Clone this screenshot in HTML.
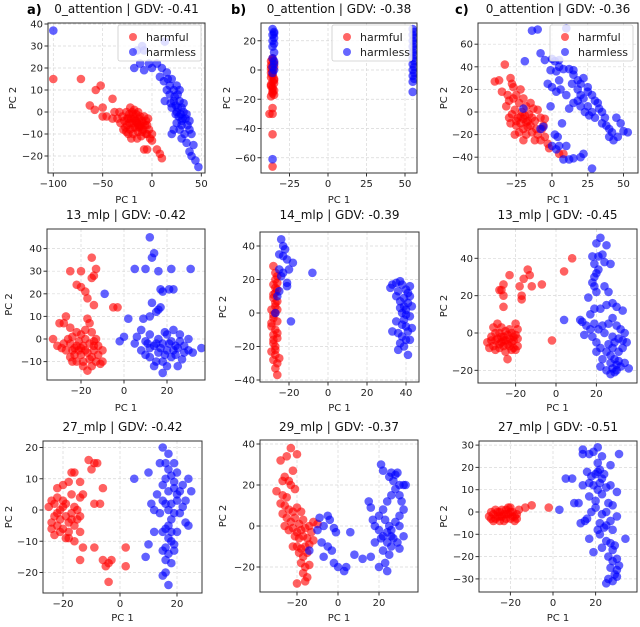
<!DOCTYPE html>
<html><head><meta charset="utf-8">
<style>
html,body{margin:0;padding:0;background:#fff;}
body{width:640px;height:622px;overflow:hidden;font-family:"Liberation Sans","DejaVu Sans",sans-serif;}
svg text{font-family:"DejaVu Sans","Liberation Sans",sans-serif;}
</style></head>
<body>
<svg id="fig" width="640" height="622" viewBox="0 0 640 622" xmlns="http://www.w3.org/2000/svg"></svg>
<script>
// ---- data (PC1, PC2) ----
const a1Harmful=[[-100,15],[-72,15],[-57,10],[-52,12],[-63,3],[-58,1],[-50,2],[-50,-2],[-40,6],[-38,0],[-46,-2],[-40,-3],[-30,-2],[-28,-4],[-26,0],[-25,-6],[-24,-3],[-22,2],[-22,-8],[-20,-5],[-20,0],[-19,-10],[-18,-3],[-17,-7],[-16,-1],[-15,-5],[-14,-9],[-13,-3],[-12,-6],[-11,-11],[-10,-4],[-9,-8],[-8,-2],[-7,-6],[-6,-10],[-5,-6],[-4,-3],[-3,-8],[-24,-10],[-27,-7],[-32,-5],[-35,-3],[-33,0],[-21,-12],[-15,-12],[-18,1],[-23,-1],[-19,-7],[-16,-4],[-13,-7],[-10,-9],[-26,-9],[-29,-8],[-14,0],[-12,-2],[-6,-4],[-2,-12],[0,-10],[-5,-10],[0,-13],[-5,-17],[5,-17],[8,-19],[10,-21],[-8,-17],[-21,-3],[-17,-4],[-14,-6],[-11,-7],[-23,-5],[-19,-1],[-9,-5],[-25,-3]];
const a1Harmless=[[-100,37],[-15,28],[-10,30],[-8,28],[-3,22],[-12,22],[-18,20],[-8,19],[0,20],[5,22],[10,20],[13,32],[8,16],[12,14],[15,18],[18,12],[20,15],[22,10],[25,12],[18,8],[22,5],[24,3],[26,8],[28,5],[30,2],[20,2],[15,10],[13,5],[25,0],[27,-2],[30,-4],[32,0],[34,-3],[36,-6],[38,-8],[28,-8],[33,-10],[25,-5],[22,-8],[20,-10],[30,-12],[35,-14],[38,-18],[40,-20],[44,-22],[47,-25],[42,-15],[30,-6],[24,-1],[19,4],[16,15],[28,10],[32,4],[35,-1],[38,-4],[40,-10],[26,2],[29,-1],[23,7],[31,-3]];
const b1Harmful=[[-36,8],[-37,6],[-36,4],[-35,2],[-36,0],[-37,-2],[-36,-4],[-35,-6],[-36,-8],[-37,-10],[-36,-12],[-35,-14],[-36,-16],[-37,-18],[-35,-17],[-36,-15],[-37,-11],[-35,-7],[-36,-3],[-37,1],[-35,5],[-36,-1],[-37,-5],[-35,-9],[-36,-13],[-37,3],[-36,7],[-36,-26],[-38,-30],[-36,-30],[-36,-44],[-36,-66]];
const b1Harmless=[[-36,28],[-35,26],[-36,24],[-35,22],[-36,20],[-35,18],[-36,16],[-35,12],[-36,8],[-35,4],[-36,2],[-35,0],[-36,-2],[-35,6],[-35,25],[-36,-61],[55,28],[56,26],[55,24],[56,22],[55,20],[56,18],[55,16],[56,14],[55,12],[56,10],[55,8],[56,6],[55,4],[56,2],[55,0],[56,-2],[55,-4],[56,-6],[55,-8],[55,-15]];
const c1Harmful=[[-40,27],[-37,28],[-33,42],[-35,18],[-31,15],[-29,30],[-28,25],[-27,22],[-30,10],[-32,5],[-25,15],[-22,20],[-20,12],[-23,8],[-26,2],[-28,-2],[-24,-5],[-21,0],[-18,5],[-15,8],[-13,3],[-10,2],[-19,-3],[-17,-8],[-22,-10],[-25,-12],[-20,-15],[-15,-12],[-12,-8],[-8,-5],[-5,-6],[-6,-12],[-14,-18],[-18,-20],[-10,-20],[-8,-25],[-5,-22],[-3,-28],[-2,-32],[5,-37],[8,-37],[-26,-20],[-29,-10],[-16,-2],[-11,-15],[-7,-15],[-20,-25],[-23,-18],[-30,-5],[-27,12],[-12,-25],[-17,-13],[-22,-4],[-18,-9],[-14,-5],[-25,-8],[-20,-6]];
const c1Harmless=[[-14,72],[-10,73],[10,74],[-19,45],[-8,52],[-5,46],[0,47],[2,45],[5,46],[8,38],[5,40],[-1,37],[3,36],[12,38],[15,37],[15,33],[-3,25],[0,22],[3,18],[5,28],[6,20],[10,15],[14,25],[18,28],[20,25],[22,30],[25,22],[18,20],[20,15],[22,12],[25,18],[28,15],[30,10],[32,8],[25,5],[20,5],[15,8],[12,3],[28,0],[30,-5],[33,3],[35,0],[37,-5],[38,-12],[40,-15],[42,-18],[40,-22],[43,-25],[46,-22],[50,-17],[53,-18],[48,-10],[45,-5],[35,-10],[-1,5],[-20,3],[-8,-15],[-6,-13],[2,-20],[4,-22],[5,-30],[10,-30],[0,-30],[3,-33],[12,-42],[15,-41],[20,-40],[22,-37],[28,-50],[8,-42],[7,-10],[26,-3],[23,0],[18,10]];
const a2Harmful=[[-33,0],[-30,7],[-28,7],[-27,10],[-25,5],[-22,3],[-18,4],[-15,3],[-14,-1],[-12,-3],[-12,-7],[-13,-10],[-10,-5],[-10,-10],[-11,-11],[-17,-14],[-19,-10],[-22,-10],[-25,-8],[-27,-5],[-28,-2],[-25,-2],[-23,-4],[-21,-1],[-19,-3],[-17,-6],[-15,-8],[-20,-7],[-23,-7],[-18,0],[-16,-2],[-14,-5],[-21,-5],[-26,0],[-24,1],[-20,2],[-16,7],[-17,9],[-19,-12],[-15,-12],[-24,-10],[-29,-4],[-31,-3],[-13,0],[-22,-3],[-18,-5],[-16,-9],[-20,-4],[-24,-5],[-14,-3],[-25,30],[-20,30],[-15,36],[-13,31],[-14,28],[-15,27],[-22,24],[-20,23],[-18,21],[-17,18],[-14,15],[-5,14],[-3,14]];
const a2Harmless=[[-9,20],[2,9],[5,31],[10,31],[12,45],[13,36],[14,38],[16,30],[22,31],[31,31],[17,22],[18,21],[21,22],[23,22],[13,16],[16,13],[17,14],[15,12],[12,10],[9,9],[8,4],[6,1],[0,1],[-2,-1],[5,-2],[10,-1],[12,2],[14,-3],[16,0],[18,-2],[20,2],[22,-1],[24,-3],[26,-1],[28,-3],[30,-5],[32,-6],[36,-4],[27,-9],[22,-8],[18,-10],[15,-10],[12,-8],[10,-7],[14,-12],[18,-15],[20,-12],[25,-12],[20,-5],[16,-6],[12,-4],[8,-5],[24,-7],[28,-6],[19,3],[23,4],[26,2],[30,0],[11,-2],[17,-4],[21,-2],[23,-5],[19,-7],[25,-4],[15,-2]];
const b2Harmful=[[-28,28],[-27,24],[-26,22],[-27,20],[-28,17],[-26,14],[-27,12],[-28,9],[-26,7],[-27,4],[-29,2],[-27,0],[-28,-3],[-26,-5],[-29,-8],[-27,-10],[-28,-13],[-26,-15],[-28,-18],[-27,-20],[-29,-23],[-27,-25],[-28,-28],[-26,-30],[-27,-33],[-26,-37],[-28,-1],[-27,6],[-26,-12],[-28,-16],[-27,-22],[-25,-27],[-29,-6],[-27,15],[-26,2],[-28,11],[-26,18]];
const b2Harmless=[[-24,44],[-23,40],[-22,38],[-25,35],[-23,34],[-21,32],[-18,30],[-25,26],[-23,24],[-24,22],[-21,18],[-21,16],[-25,13],[-26,10],[-27,0],[-19,-5],[-8,24],[-20,26],[33,17],[35,18],[37,19],[38,17],[32,15],[36,13],[40,14],[41,12],[42,10],[39,9],[37,7],[41,6],[43,4],[40,2],[38,0],[42,-2],[39,-4],[35,-5],[33,-11],[36,-12],[38,-14],[40,-16],[42,-16],[37,-18],[39,-20],[36,-22],[41,-25],[40,-8],[43,-9],[38,-7],[41,-11],[39,4],[42,16],[35,10],[40,-1],[37,3]];
const c2Harmful=[[-34,-5],[-32,-2],[-31,-7],[-30,0],[-29,-3],[-28,-8],[-27,-5],[-26,-2],[-25,1],[-24,-6],[-23,-3],[-22,-9],[-21,-4],[-20,-1],[-19,-7],[-19,2],[-21,-8],[-23,2],[-25,-10],[-27,3],[-30,-9],[-33,-8],[-28,0],[-26,-7],[-24,-1],[-22,-5],[-20,-9],[-24,-14],[-27,-2],[-29,5],[-20,5],[-31,3],[-25,-4],[-22,0],[-19,-3],[-30,-4],[-28,-6],[-26,-4],[-23,-7],[-21,-2],[-32,-4],[-27,23],[-28,23],[-26,26],[-26,20],[-26,14],[-23,31],[-18,25],[-17,20],[-17,18],[-16,29],[-14,34],[-13,31],[-12,25],[-7,26],[4,33],[8,40],[-2,-4]];
const c2Harmless=[[22,51],[20,48],[25,47],[18,41],[21,41],[23,42],[24,38],[27,37],[19,37],[20,32],[21,34],[19,30],[18,27],[19,25],[20,22],[24,25],[26,22],[16,19],[4,7],[12,7],[13,6],[15,4],[17,10],[19,13],[22,13],[25,15],[28,16],[30,14],[33,12],[23,4],[21,2],[19,5],[17,2],[14,-1],[18,-2],[20,-5],[22,-8],[24,0],[26,5],[28,8],[30,4],[32,2],[34,0],[35,-5],[33,-4],[31,-3],[28,-2],[26,-6],[25,-10],[27,-12],[29,-14],[30,-17],[32,-18],[34,-16],[36,-19],[29,-21],[27,-22],[25,-20],[22,-18],[28,-8],[31,-10],[33,-8],[29,-5],[20,-10],[23,-14],[27,-16],[30,-20],[28,-19],[31,-15]];
const a3Harmful=[[-22,4],[-23,2],[-21,0],[-20,3],[-24,3],[-25,1],[-23,-2],[-21,-3],[-19,-2],[-22,-5],[-24,-6],[-20,-6],[-18,-4],[-17,-1],[-19,2],[-22,7],[-20,8],[-18,9],[-17,12],[-16,12],[-14,9],[-13,5],[-14,4],[-16,1],[-17,-3],[-15,-3],[-14,-2],[-16,-5],[-18,-7],[-19,-9],[-23,-8],[-24,-4],[-21,-7],[-17,5],[-15,0],[-11,16],[-9,15],[-8,15],[-10,13],[-6,7],[-9,2],[-7,2],[-14,-7],[-16,-10],[-18,-9],[-13,-12],[-9,-12],[-14,-16],[-6,-16],[-5,-18],[-4,-17],[-3,-16],[-4,-23],[2,-12],[2,-18],[-20,1],[-22,-1]];
const a3Harmless=[[5,10],[10,12],[15,20],[17,18],[16,15],[14,15],[19,15],[17,13],[16,10],[18,11],[20,12],[15,8],[13,5],[17,6],[19,7],[21,6],[22,8],[24,10],[25,6],[23,3],[20,3],[18,2],[15,3],[11,2],[12,0],[14,-1],[17,0],[19,-1],[21,-1],[23,-4],[24,-5],[17,-5],[16,-6],[15,-7],[18,-7],[20,-7],[12,-7],[17,-9],[18,-10],[19,-11],[16,-12],[15,-13],[17,-14],[19,-13],[16,-16],[18,-17],[15,-21],[16,-20],[17,-24],[10,-11],[9,-15],[20,5],[22,1],[18,-3],[16,2],[19,9]];
const b3Harmful=[[-30,17],[-28,32],[-25,34],[-23,38],[-20,35],[-22,27],[-26,24],[-27,22],[-24,22],[-23,20],[-21,18],[-27,15],[-25,14],[-28,11],[-26,10],[-24,8],[-22,7],[-20,9],[-18,7],[-27,6],[-25,4],[-23,2],[-21,4],[-19,1],[-17,3],[-22,-1],[-20,-3],[-18,-2],[-16,-1],[-14,0],[-12,2],[-10,1],[-21,-5],[-19,-6],[-17,-5],[-15,-6],[-13,-3],[-20,-10],[-18,-11],[-16,-10],[-14,-9],[-19,-13],[-17,-15],[-15,-13],[-18,-18],[-16,-20],[-14,-19],[-17,-23],[-15,-25],[-16,-27],[-20,-28],[-22,-10],[-24,-2],[-12,-7],[-26,0]];
const b3Harmless=[[-14,-12],[-10,-2],[-9,4],[-7,0],[-5,5],[-4,3],[-2,-1],[-1,-3],[-8,-8],[-5,-10],[-3,-12],[-7,-15],[-2,-18],[0,-20],[3,-22],[4,-20],[6,-3],[8,-14],[12,-16],[15,12],[16,9],[17,3],[18,0],[20,-2],[22,-5],[24,-8],[26,-10],[22,-12],[25,-14],[23,-18],[20,-20],[16,-15],[18,-8],[20,5],[22,8],[24,12],[26,15],[28,18],[30,20],[32,20],[33,20],[27,22],[25,24],[21,30],[22,27],[26,26],[28,25],[29,26],[30,15],[31,12],[32,8],[30,5],[28,2],[26,-2],[27,-6],[29,-8],[30,-11],[26,-5],[24,-3],[25,0],[23,3],[21,-6],[30,0],[32,-5],[24,-22]];
const c3Harmful=[[-30,-2],[-29,-3],[-28,-1],[-27,-3],[-26,-2],[-25,0],[-24,-2],[-23,-4],[-22,1],[-21,-1],[-20,-3],[-19,0],[-18,-2],[-17,-1],[-16,1],[-28,-4],[-26,0],[-24,1],[-22,-3],[-20,2],[-18,-4],[-23,-1],[-25,-4],[-21,2],[-19,-2],[-27,1],[-13,2],[-10,3],[-2,2],[-29,0],[-25,-2],[-22,-1],[-20,0],[-17,-3]];
const c3Harmless=[[3,1],[6,15],[9,15],[10,4],[12,4],[14,12],[14,26],[14,28],[17,26],[19,27],[21,29],[23,25],[21,22],[22,19],[20,17],[18,16],[16,18],[24,17],[27,21],[31,26],[17,13],[19,12],[22,13],[25,11],[27,12],[30,9],[23,8],[21,10],[17,7],[13,-5],[15,-4],[16,-3],[18,0],[20,2],[23,-1],[25,0],[26,4],[28,3],[30,-2],[22,-5],[24,-7],[21,-8],[25,-6],[27,-4],[28,-8],[22,-10],[17,-12],[19,-18],[23,-16],[25,-13],[27,-14],[28,-17],[29,-15],[34,-12],[26,-20],[28,-22],[30,-21],[31,-24],[27,-25],[29,-28],[26,-30],[25,-32],[28,-31],[30,-29],[30,-26],[20,5],[21,18],[23,15]];
// titles and tick labels
const titles=["0_attention | GDV: -0.41","0_attention | GDV: -0.38","0_attention | GDV: -0.36","13_mlp | GDV: -0.42","14_mlp | GDV: -0.39","13_mlp | GDV: -0.45","27_mlp | GDV: -0.42","29_mlp | GDV: -0.37","27_mlp | GDV: -0.51"];
const xTicks=[[-100,-50,0,50],[-25,0,25,50],[-25,0,25,50],[-20,0,20],[-20,0,20,40],[-20,0,20],[-20,0,20],[-20,0,20],[-20,0,20]];
const yTicks=[[-20,-10,0,10,20,30,40],[-60,-40,-20,0,20],[-40,-20,0,20,40,60],[-10,0,10,20,30,40],[-40,-20,0,20,40],[-20,0,20,40],[-20,-10,0,10,20],[-20,0,20,40],[-30,-20,-10,0,10,20,30]];
const harmful=[a1Harmful,b1Harmful,c1Harmful,a2Harmful,b2Harmful,c2Harmful,a3Harmful,b3Harmful,c3Harmful];
const harmless=[a1Harmless,b1Harmless,c1Harmless,a2Harmless,b2Harmless,c2Harmless,a3Harmless,b3Harmless,c3Harmless];

const layout=[
 {l:48,t:23,r:205,b:173,x0:152,sx:0.987,y0:112,sy:2.2,ty:8,py:199,yl:12},
 {l:261,t:23,r:417,b:173,x0:328,sx:1.54,y0:70,sy:1.4625,ty:8,py:199,yl:226},
 {l:478,t:23,r:638,b:173,x0:552,sx:1.43,y0:112,sy:1.13,ty:8,py:199,yl:443},
 {l:47,t:229,r:205,b:380,x0:124,sx:2.15,y0:339,sy:2.26,ty:214,py:407,yl:8},
 {l:260,t:232,r:419,b:382,x0:328,sx:1.95,y0:313,sy:1.675,ty:214,py:407,yl:222},
 {l:478,t:229,r:637,b:383,x0:556,sx:2.02,y0:333,sy:1.867,ty:214,py:407,yl:443},
 {l:43,t:441,r:202,b:593,x0:120,sx:2.85,y0:510,sy:3.125,ty:426,py:617,yl:8},
 {l:260,t:440,r:418,b:592,x0:338,sx:2.05,y0:526,sy:2.05,ty:426,py:617,yl:222},
 {l:479,t:441,r:637,b:592,x0:553,sx:2.13,y0:512,sy:2.23,ty:426,py:617,yl:443}
];
const NS="http://www.w3.org/2000/svg";
const svg=document.getElementById('fig');
function mk(tag,attrs,parent,text){const e=document.createElementNS(NS,tag);for(const k in attrs)e.setAttribute(k,attrs[k]);if(text!==undefined)e.textContent=text;(parent||svg).appendChild(e);return e;}
const defs=mk('defs',{});
const letters=[["a)",27],["b)",231],["c)",455]];
letters.forEach((L,i)=>{
  const t=mk('text',{x:L[1],y:14,'font-size':13,'font-weight':'bold',fill:'#000'},svg,L[0]);
  
  
});
layout.forEach((P,i)=>{
  const g=mk('g',{});
  
  
  const X=v=>P.x0+v*P.sx, Y=v=>P.y0-v*P.sy;
  const cp=mk('clipPath',{id:'cp'+i},defs);
  mk('rect',{x:P.l,y:P.t,width:P.r-P.l,height:P.b-P.t},cp);
  xTicks[i].forEach(v=>{const l=mk('line',{x1:X(v),x2:X(v),y1:P.t,y2:P.b,stroke:'#d8d8d8','stroke-width':0.7,'stroke-dasharray':'3,2'},g);});
  yTicks[i].forEach(v=>{const l=mk('line',{y1:Y(v),y2:Y(v),x1:P.l,x2:P.r,stroke:'#d8d8d8','stroke-width':0.7,'stroke-dasharray':'3,2'},g);});
  const pts=mk('g',{'clip-path':'url(#cp'+i+')'},g);
  harmful[i].forEach(p=>{const c=mk('circle',{cx:X(p[0]),cy:Y(p[1]),r:4.3,fill:'#ff0000','fill-opacity':0.62},pts);
    
    });
  harmless[i].forEach(p=>{const c=mk('circle',{cx:X(p[0]),cy:Y(p[1]),r:4.3,fill:'#0000ff','fill-opacity':0.62},pts);
    
    });
  const box=mk('rect',{x:P.l,y:P.t,width:P.r-P.l,height:P.b-P.t,fill:'none',stroke:'#333','stroke-width':1},g);
  
  
  xTicks[i].forEach(v=>{mk('line',{x1:X(v),x2:X(v),y1:P.b,y2:P.b+3.5,stroke:'#333'},g);
    const t=mk('text',{x:X(v),y:P.b+14,'font-size':10,'text-anchor':'middle',fill:'#222'},g,v<0?'\u2212'+(-v):String(v));
    
    });
  yTicks[i].forEach(v=>{mk('line',{x1:P.l-3.5,x2:P.l,y1:Y(v),y2:Y(v),stroke:'#333'},g);
    const t=mk('text',{x:P.l-5,y:Y(v)+3.5,'font-size':10,'text-anchor':'end',fill:'#222'},g,v<0?'\u2212'+(-v):String(v));
    
    });
  const tt=mk('text',{x:(P.l+P.r)/2,y:P.ty+5,'font-size':12,'text-anchor':'middle',fill:'#111'},g,titles[i]);
  
  
  const xl=mk('text',{x:(P.l+P.r)/2,y:P.py+4,'font-size':10,'text-anchor':'middle',fill:'#222'},g,'PC 1');
  
  
  const yl=mk('text',{x:P.yl+4,y:(P.t+P.b)/2,'font-size':10,'text-anchor':'middle',fill:'#222',transform:'rotate(-90 '+(P.yl+4)+' '+((P.t+P.b)/2)+')'},g,'PC 2');
  
  
  if(i<3){
    const lx=[118,332,550][i], lw=[83,80,83][i];
    const lg=mk('g',{},g);
    
    
    mk('rect',{x:lx,y:25,width:lw,height:36,rx:2,fill:'#fff','fill-opacity':0.8,stroke:'#ccc','stroke-width':0.8},lg);
    [['harmful','#ff0000',37],['harmless','#0000ff',52]].forEach(e=>{
      const eg=mk('g',{},lg);
      
      
      mk('circle',{cx:lx+15,cy:e[2],r:4,fill:e[1],'fill-opacity':0.6},eg);
      mk('text',{x:lx+28,y:e[2]+4,'font-size':11,fill:'#222'},eg,e[0]);
    });
  }
});
</script>
</body></html>
